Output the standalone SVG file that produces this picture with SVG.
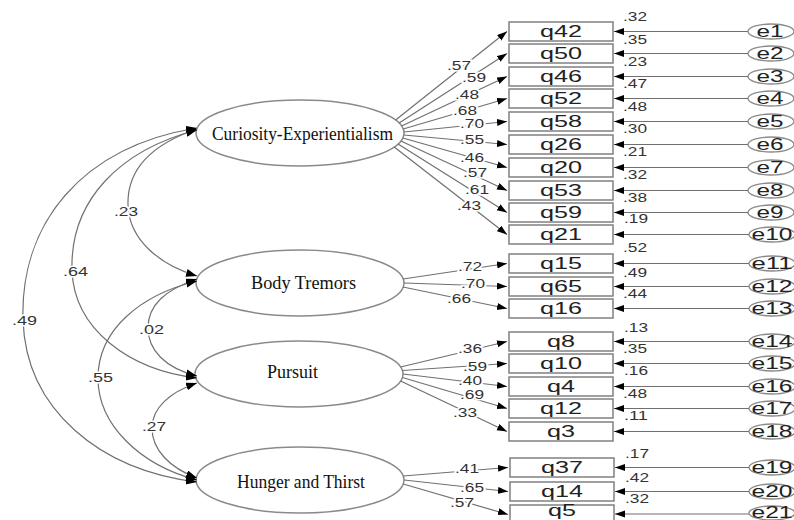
<svg xmlns="http://www.w3.org/2000/svg" width="794" height="520" viewBox="0 0 794 520">
<defs>
<style>
.box{fill:#fff;stroke:#808080;stroke-width:1.5}
.lat{fill:#fff;stroke:#8a8a8a;stroke-width:1.5}
.err{fill:#fff;stroke:#8a8a8a;stroke-width:1.3}
.bt{font-family:'Liberation Sans',Arial,sans-serif;font-size:17px;fill:#222;text-anchor:middle}
.et{font-family:'Liberation Sans',Arial,sans-serif;font-size:16px;fill:#222;text-anchor:middle}
.lt{font-family:'Liberation Serif','Times New Roman',serif;font-size:18px;fill:#111}
.lbl{font-family:'Liberation Sans',Arial,sans-serif;font-size:12px;fill:#333;stroke:#fff;stroke-width:3;paint-order:stroke}
.rl{font-family:'Liberation Sans',Arial,sans-serif;font-size:12px;fill:#333}
.ln{fill:none;stroke:#707070;stroke-width:1.2;marker-end:url(#ah)}
.cv{fill:none;stroke:#707070;stroke-width:1.2;marker-start:url(#ah2);marker-end:url(#ah2)}
</style>
<marker id="ah" markerUnits="userSpaceOnUse" markerWidth="11" markerHeight="8" refX="10" refY="3.5" orient="auto"><path d="M0,0 L10,3.5 L0,7 z" fill="#000"/></marker>
<marker id="ah2" markerUnits="userSpaceOnUse" markerWidth="12" markerHeight="9" refX="11" refY="4" orient="auto-start-reverse"><path d="M0,0 L11,4 L0,8 z" fill="#000"/></marker>
</defs>
<rect width="794" height="520" fill="#fff"/>

<g id="latent-curiosity"><ellipse class="lat" cx="300" cy="133" rx="104" ry="33"/><text class="lt" x="212" y="140" textLength="181" lengthAdjust="spacingAndGlyphs">Curiosity-Experientialism</text></g>
<g id="latent-body"><ellipse class="lat" cx="300" cy="283" rx="104" ry="33"/><text class="lt" x="251" y="289" textLength="105" lengthAdjust="spacingAndGlyphs">Body Tremors</text></g>
<g id="latent-pursuit"><ellipse class="lat" cx="299" cy="374" rx="104" ry="33"/><text class="lt" x="267" y="378" textLength="51" lengthAdjust="spacingAndGlyphs">Pursuit</text></g>
<g id="latent-hunger"><ellipse class="lat" cx="300" cy="480" rx="104" ry="33"/><text class="lt" x="237" y="488" textLength="128" lengthAdjust="spacingAndGlyphs">Hunger and Thirst</text></g>

<g id="q42"><rect class="box" x="509" y="22" width="104" height="19"/><text class="bt" x="561" y="37" textLength="42" lengthAdjust="spacingAndGlyphs">q42</text></g>
<g id="q50"><rect class="box" x="509" y="44" width="104" height="19"/><text class="bt" x="561" y="59" textLength="42" lengthAdjust="spacingAndGlyphs">q50</text></g>
<g id="q46"><rect class="box" x="509" y="67" width="104" height="19"/><text class="bt" x="561" y="82" textLength="42" lengthAdjust="spacingAndGlyphs">q46</text></g>
<g id="q52"><rect class="box" x="509" y="89" width="104" height="19"/><text class="bt" x="561" y="104" textLength="42" lengthAdjust="spacingAndGlyphs">q52</text></g>
<g id="q58"><rect class="box" x="509" y="112" width="104" height="19"/><text class="bt" x="561" y="127" textLength="42" lengthAdjust="spacingAndGlyphs">q58</text></g>
<g id="q26"><rect class="box" x="509" y="135" width="104" height="19"/><text class="bt" x="561" y="150" textLength="42" lengthAdjust="spacingAndGlyphs">q26</text></g>
<g id="q20"><rect class="box" x="509" y="158" width="104" height="19"/><text class="bt" x="561" y="173" textLength="42" lengthAdjust="spacingAndGlyphs">q20</text></g>
<g id="q53"><rect class="box" x="509" y="181" width="104" height="19"/><text class="bt" x="561" y="196" textLength="42" lengthAdjust="spacingAndGlyphs">q53</text></g>
<g id="q59"><rect class="box" x="509" y="203" width="104" height="19"/><text class="bt" x="561" y="218" textLength="42" lengthAdjust="spacingAndGlyphs">q59</text></g>
<g id="q21"><rect class="box" x="509" y="225" width="104" height="19"/><text class="bt" x="561" y="240" textLength="42" lengthAdjust="spacingAndGlyphs">q21</text></g>
<g id="q15"><rect class="box" x="509" y="254" width="104" height="19"/><text class="bt" x="561" y="269" textLength="42" lengthAdjust="spacingAndGlyphs">q15</text></g>
<g id="q65"><rect class="box" x="509" y="277" width="104" height="19"/><text class="bt" x="561" y="292" textLength="42" lengthAdjust="spacingAndGlyphs">q65</text></g>
<g id="q16"><rect class="box" x="509" y="299" width="104" height="19"/><text class="bt" x="561" y="314" textLength="42" lengthAdjust="spacingAndGlyphs">q16</text></g>
<g id="q8"><rect class="box" x="509" y="332" width="104" height="19"/><text class="bt" x="561" y="347" textLength="28" lengthAdjust="spacingAndGlyphs">q8</text></g>
<g id="q10"><rect class="box" x="509" y="354" width="104" height="19"/><text class="bt" x="561" y="369" textLength="42" lengthAdjust="spacingAndGlyphs">q10</text></g>
<g id="q4"><rect class="box" x="509" y="377" width="104" height="19"/><text class="bt" x="561" y="392" textLength="28" lengthAdjust="spacingAndGlyphs">q4</text></g>
<g id="q12"><rect class="box" x="509" y="399" width="104" height="19"/><text class="bt" x="561" y="414" textLength="42" lengthAdjust="spacingAndGlyphs">q12</text></g>
<g id="q3"><rect class="box" x="509" y="422" width="104" height="19"/><text class="bt" x="561" y="437" textLength="28" lengthAdjust="spacingAndGlyphs">q3</text></g>
<g id="q37"><rect class="box" x="510" y="458" width="104" height="19"/><text class="bt" x="562" y="473" textLength="42" lengthAdjust="spacingAndGlyphs">q37</text></g>
<g id="q14"><rect class="box" x="510" y="482" width="104" height="19"/><text class="bt" x="562" y="497" textLength="42" lengthAdjust="spacingAndGlyphs">q14</text></g>
<g id="q5"><rect class="box" x="510" y="505" width="104" height="19"/><text class="bt" x="562" y="516" textLength="28" lengthAdjust="spacingAndGlyphs">q5</text></g>

<g id="e1"><ellipse class="err" cx="771" cy="31.5" rx="23" ry="7.5"/><text class="et" x="770" y="37" textLength="27" lengthAdjust="spacingAndGlyphs">e1</text></g>
<g id="e2"><ellipse class="err" cx="771" cy="53.5" rx="23" ry="7.5"/><text class="et" x="770" y="59" textLength="27" lengthAdjust="spacingAndGlyphs">e2</text></g>
<g id="e3"><ellipse class="err" cx="771" cy="76.5" rx="23" ry="7.5"/><text class="et" x="770" y="82" textLength="27" lengthAdjust="spacingAndGlyphs">e3</text></g>
<g id="e4"><ellipse class="err" cx="771" cy="98.5" rx="23" ry="7.5"/><text class="et" x="770" y="104" textLength="27" lengthAdjust="spacingAndGlyphs">e4</text></g>
<g id="e5"><ellipse class="err" cx="771" cy="121.5" rx="23" ry="7.5"/><text class="et" x="770" y="127" textLength="27" lengthAdjust="spacingAndGlyphs">e5</text></g>
<g id="e6"><ellipse class="err" cx="771" cy="144.5" rx="23" ry="7.5"/><text class="et" x="770" y="150" textLength="27" lengthAdjust="spacingAndGlyphs">e6</text></g>
<g id="e7"><ellipse class="err" cx="771" cy="167.5" rx="23" ry="7.5"/><text class="et" x="770" y="173" textLength="27" lengthAdjust="spacingAndGlyphs">e7</text></g>
<g id="e8"><ellipse class="err" cx="771" cy="190.5" rx="23" ry="7.5"/><text class="et" x="770" y="196" textLength="27" lengthAdjust="spacingAndGlyphs">e8</text></g>
<g id="e9"><ellipse class="err" cx="771" cy="212.5" rx="23" ry="7.5"/><text class="et" x="770" y="218" textLength="27" lengthAdjust="spacingAndGlyphs">e9</text></g>
<g id="e10"><ellipse class="err" cx="772" cy="234.5" rx="23" ry="7.5"/><text class="et" x="772" y="240" textLength="41" lengthAdjust="spacingAndGlyphs">e10</text></g>
<g id="e11"><ellipse class="err" cx="772" cy="263.5" rx="23" ry="7.5"/><text class="et" x="772" y="269" textLength="41" lengthAdjust="spacingAndGlyphs">e11</text></g>
<g id="e12"><ellipse class="err" cx="772" cy="286.5" rx="23" ry="7.5"/><text class="et" x="772" y="292" textLength="41" lengthAdjust="spacingAndGlyphs">e12</text></g>
<g id="e13"><ellipse class="err" cx="772" cy="308.5" rx="23" ry="7.5"/><text class="et" x="772" y="314" textLength="41" lengthAdjust="spacingAndGlyphs">e13</text></g>
<g id="e14"><ellipse class="err" cx="772" cy="341.5" rx="23" ry="7.5"/><text class="et" x="772" y="347" textLength="41" lengthAdjust="spacingAndGlyphs">e14</text></g>
<g id="e15"><ellipse class="err" cx="772" cy="363.5" rx="23" ry="7.5"/><text class="et" x="772" y="369" textLength="41" lengthAdjust="spacingAndGlyphs">e15</text></g>
<g id="e16"><ellipse class="err" cx="772" cy="386.5" rx="23" ry="7.5"/><text class="et" x="772" y="392" textLength="41" lengthAdjust="spacingAndGlyphs">e16</text></g>
<g id="e17"><ellipse class="err" cx="772" cy="408.5" rx="23" ry="7.5"/><text class="et" x="772" y="414" textLength="41" lengthAdjust="spacingAndGlyphs">e17</text></g>
<g id="e18"><ellipse class="err" cx="772" cy="431.5" rx="23" ry="7.5"/><text class="et" x="772" y="437" textLength="41" lengthAdjust="spacingAndGlyphs">e18</text></g>
<g id="e19"><ellipse class="err" cx="772" cy="467.5" rx="23" ry="7.5"/><text class="et" x="772" y="473" textLength="41" lengthAdjust="spacingAndGlyphs">e19</text></g>
<g id="e20"><ellipse class="err" cx="772" cy="491.5" rx="23" ry="7.5"/><text class="et" x="772" y="497" textLength="41" lengthAdjust="spacingAndGlyphs">e20</text></g>
<g id="e21"><ellipse class="err" cx="772" cy="513" rx="23" ry="7"/><text class="et" x="772" y="518" textLength="41" lengthAdjust="spacingAndGlyphs">e21</text></g>

<g id="connectors">
<path class="ln" d="M395.6,120 L507,31.5"/>
<path class="ln" d="M399.1,123 L507,53.5"/>
<path class="ln" d="M401.6,126 L507,76.5"/>
<path class="ln" d="M403.2,129 L507,98.5"/>
<path class="ln" d="M404,132 L507,121.5"/>
<path class="ln" d="M403.8,135 L507,144.5"/>
<path class="ln" d="M402.8,138 L507,167.5"/>
<path class="ln" d="M400.9,141 L507,190.5"/>
<path class="ln" d="M398,144 L507,212.5"/>
<path class="ln" d="M394.2,147 L507,234.5"/>
<path class="ln" d="M403,279 L507,263.5"/>
<path class="ln" d="M404,283 L507,286.5"/>
<path class="ln" d="M403,287 L507,308.5"/>
<path class="ln" d="M400.6,367 L507,341.5"/>
<path class="ln" d="M402.4,370.5 L507,363.5"/>
<path class="ln" d="M403,374 L507,386.5"/>
<path class="ln" d="M402.4,377.5 L507,408.5"/>
<path class="ln" d="M400.6,381 L507,431.5"/>
<path class="ln" d="M403.2,476 L508,467.5"/>
<path class="ln" d="M404,480 L508,491.5"/>
<path class="ln" d="M403.2,484 L508,514.5"/>
<path class="ln" d="M748,31.5 L614,31.5"/>
<path class="ln" d="M748,53.5 L614,53.5"/>
<path class="ln" d="M748,76.5 L614,76.5"/>
<path class="ln" d="M748,98.5 L614,98.5"/>
<path class="ln" d="M748,121.5 L614,121.5"/>
<path class="ln" d="M748,144.5 L614,144.5"/>
<path class="ln" d="M748,167.5 L614,167.5"/>
<path class="ln" d="M748,190.5 L614,190.5"/>
<path class="ln" d="M748,212.5 L614,212.5"/>
<path class="ln" d="M749,234.5 L614,234.5"/>
<path class="ln" d="M749,263.5 L614,263.5"/>
<path class="ln" d="M749,286.5 L614,286.5"/>
<path class="ln" d="M749,308.5 L614,308.5"/>
<path class="ln" d="M749,341.5 L614,341.5"/>
<path class="ln" d="M749,363.5 L614,363.5"/>
<path class="ln" d="M749,386.5 L614,386.5"/>
<path class="ln" d="M749,408.5 L614,408.5"/>
<path class="ln" d="M749,431.5 L614,431.5"/>
<path class="ln" d="M749,467.5 L615,467.5"/>
<path class="ln" d="M749,491.5 L615,491.5"/>
<path class="ln" d="M749,514 L615,514"/>
<path class="cv" d="M197,129 C150,145 127,170 128,205 C129,240 160,265 197,276"/>
<path class="cv" d="M197,130 C120,150 70,200 72,270 C74,330 130,370 197,378"/>
<path class="cv" d="M197,128 C80,147 20,225 23,320 C26,410 100,470 197,482"/>
<path class="cv" d="M197,279 C165,290 148,305 148,328 C148,350 165,368 197,376"/>
<path class="cv" d="M197,281 C140,295 98,330 98,378 C98,425 140,465 197,480"/>
<path class="cv" d="M197,383 C170,392 152,408 152,428 C152,450 170,468 197,478"/>
<text class="lbl" x="447" y="70" textLength="24" lengthAdjust="spacingAndGlyphs">.57</text>
<text class="lbl" x="462" y="82" textLength="24" lengthAdjust="spacingAndGlyphs">.59</text>
<text class="lbl" x="455" y="99" textLength="24" lengthAdjust="spacingAndGlyphs">.48</text>
<text class="lbl" x="453" y="115" textLength="24" lengthAdjust="spacingAndGlyphs">.68</text>
<text class="lbl" x="460" y="128" textLength="24" lengthAdjust="spacingAndGlyphs">.70</text>
<text class="lbl" x="460" y="144" textLength="24" lengthAdjust="spacingAndGlyphs">.55</text>
<text class="lbl" x="460" y="162" textLength="24" lengthAdjust="spacingAndGlyphs">.46</text>
<text class="lbl" x="463" y="177" textLength="24" lengthAdjust="spacingAndGlyphs">.57</text>
<text class="lbl" x="465" y="194" textLength="24" lengthAdjust="spacingAndGlyphs">.61</text>
<text class="lbl" x="457" y="210" textLength="24" lengthAdjust="spacingAndGlyphs">.43</text>
<text class="lbl" x="458" y="271" textLength="24" lengthAdjust="spacingAndGlyphs">.72</text>
<text class="lbl" x="461" y="288" textLength="24" lengthAdjust="spacingAndGlyphs">.70</text>
<text class="lbl" x="447" y="303" textLength="24" lengthAdjust="spacingAndGlyphs">.66</text>
<text class="lbl" x="458" y="353" textLength="24" lengthAdjust="spacingAndGlyphs">.36</text>
<text class="lbl" x="463" y="371" textLength="24" lengthAdjust="spacingAndGlyphs">.59</text>
<text class="lbl" x="458" y="385" textLength="24" lengthAdjust="spacingAndGlyphs">.40</text>
<text class="lbl" x="460" y="399" textLength="24" lengthAdjust="spacingAndGlyphs">.69</text>
<text class="lbl" x="453" y="417" textLength="24" lengthAdjust="spacingAndGlyphs">.33</text>
<text class="lbl" x="455" y="473" textLength="24" lengthAdjust="spacingAndGlyphs">.41</text>
<text class="lbl" x="460" y="492" textLength="24" lengthAdjust="spacingAndGlyphs">.65</text>
<text class="lbl" x="450" y="507" textLength="24" lengthAdjust="spacingAndGlyphs">.57</text>
<text class="lbl" x="114" y="216" textLength="24" lengthAdjust="spacingAndGlyphs">.23</text>
<text class="lbl" x="63" y="276" textLength="25" lengthAdjust="spacingAndGlyphs">.64</text>
<text class="lbl" x="12" y="325" textLength="25" lengthAdjust="spacingAndGlyphs">.49</text>
<text class="lbl" x="139" y="334" textLength="25" lengthAdjust="spacingAndGlyphs">.02</text>
<text class="lbl" x="88" y="382" textLength="25" lengthAdjust="spacingAndGlyphs">.55</text>
<text class="lbl" x="142" y="431" textLength="24" lengthAdjust="spacingAndGlyphs">.27</text>
<text class="rl" x="623" y="21" textLength="24" lengthAdjust="spacingAndGlyphs">.32</text>
<text class="rl" x="623" y="44" textLength="24" lengthAdjust="spacingAndGlyphs">.35</text>
<text class="rl" x="623" y="66" textLength="24" lengthAdjust="spacingAndGlyphs">.23</text>
<text class="rl" x="623" y="88" textLength="24" lengthAdjust="spacingAndGlyphs">.47</text>
<text class="rl" x="623" y="111" textLength="24" lengthAdjust="spacingAndGlyphs">.48</text>
<text class="rl" x="623" y="133" textLength="24" lengthAdjust="spacingAndGlyphs">.30</text>
<text class="rl" x="623" y="156" textLength="24" lengthAdjust="spacingAndGlyphs">.21</text>
<text class="rl" x="623" y="179" textLength="24" lengthAdjust="spacingAndGlyphs">.32</text>
<text class="rl" x="623" y="202" textLength="24" lengthAdjust="spacingAndGlyphs">.38</text>
<text class="rl" x="624" y="223" textLength="24" lengthAdjust="spacingAndGlyphs">.19</text>
<text class="rl" x="623" y="252" textLength="24" lengthAdjust="spacingAndGlyphs">.52</text>
<text class="rl" x="623" y="277" textLength="24" lengthAdjust="spacingAndGlyphs">.49</text>
<text class="rl" x="623" y="298" textLength="24" lengthAdjust="spacingAndGlyphs">.44</text>
<text class="rl" x="624" y="332" textLength="24" lengthAdjust="spacingAndGlyphs">.13</text>
<text class="rl" x="623" y="353" textLength="24" lengthAdjust="spacingAndGlyphs">.35</text>
<text class="rl" x="624" y="375" textLength="24" lengthAdjust="spacingAndGlyphs">.16</text>
<text class="rl" x="623" y="398" textLength="24" lengthAdjust="spacingAndGlyphs">.48</text>
<text class="rl" x="624" y="420" textLength="24" lengthAdjust="spacingAndGlyphs">.11</text>
<text class="rl" x="625" y="458" textLength="24" lengthAdjust="spacingAndGlyphs">.17</text>
<text class="rl" x="625" y="482" textLength="24" lengthAdjust="spacingAndGlyphs">.42</text>
<text class="rl" x="625" y="503" textLength="24" lengthAdjust="spacingAndGlyphs">.32</text>
</g>
</svg>
